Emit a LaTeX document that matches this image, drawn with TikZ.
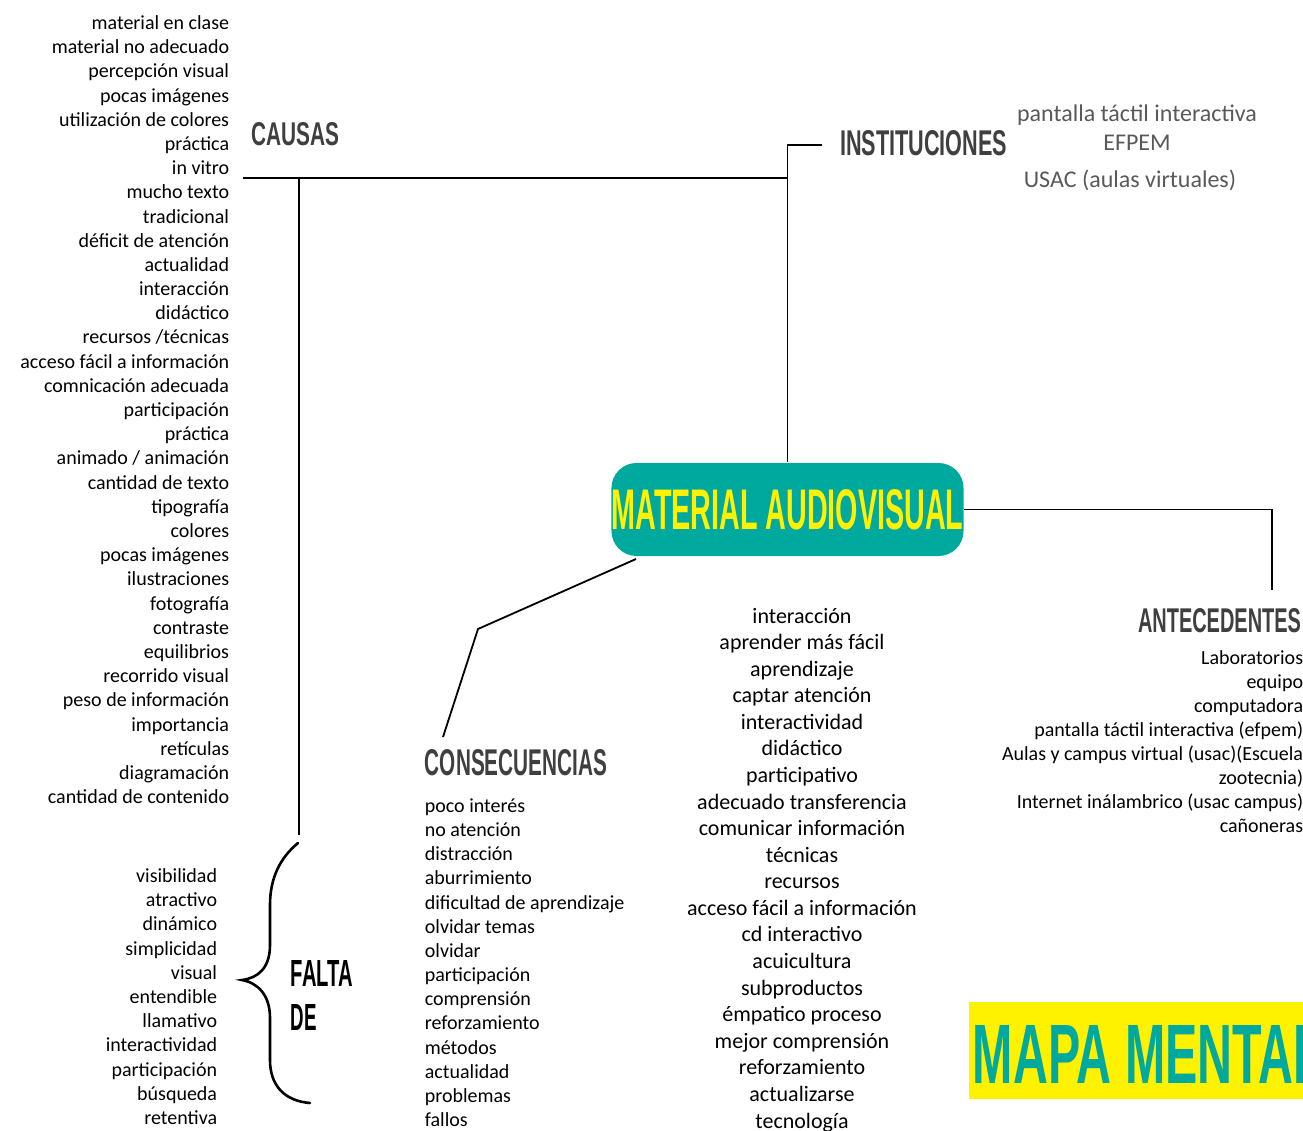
\documentclass[tikz,border=0pt]{standalone}
\usepackage{fontspec}
\usepackage{graphicx}
\setmainfont{Carlito}
\newfontfamily\headfont{Liberation Sans}
\definecolor{mapteal}{HTML}{00A99D}
\definecolor{mapyellow}{HTML}{FFF200}
\definecolor{headgrey}{HTML}{3F3F3F}
\definecolor{instgrey}{HTML}{595959}
% heading text squeezed to a given width and cap height
\newcommand{\hd}[3]{\resizebox{#1pt}{#2pt}{\headfont\bfseries #3}}

\begin{document}
\begin{tikzpicture}[x=1pt, y=-1pt, line width=1.8pt,
  lst/.style={inner sep=0pt, font=\fontsize{20}{24}\selectfont},
  biglst/.style={inner sep=0pt, font=\fontsize{22}{26}\selectfont},
  instlst/.style={inner sep=0pt, text=instgrey, font=\fontsize{24}{28}\selectfont},
  hdnode/.style={inner sep=0pt, text=headgrey}]
\useasboundingbox (0,0) rectangle (1303,1131);

% main node
\node[fill=mapteal, rounded corners=25pt, minimum width=351pt, minimum height=93pt,
  inner sep=0pt, text=mapyellow] (main) at (787.5,509.5) {\hd{352}{40}{MATERIAL AUDIOVISUAL}};

% headings
\node[hdnode] (causas) at (295,134.5) {\hd{88}{23}{CAUSAS}};
\node[hdnode] (inst) at (923.5,143.5) {\hd{167}{25}{INSTITUCIONES}};
\node[hdnode] (ante) at (1219.5,621) {\hd{163}{24}{ANTECEDENTES}};
\node[hdnode] (cons) at (516,763) {\hd{182}{26}{CONSECUENCIAS}};
\node[inner sep=0pt, anchor=west] (falta) at (290,973) {\hd{62}{26}{FALTA}};
\node[inner sep=0pt, anchor=west] (de) at (290,1017) {\hd{26}{26}{DE}};

% causas
\foreach \t [count=\i] in {material en clase, material no adecuado, percepción visual,
  pocas imágenes, utilización de colores, práctica, in vitro, mucho texto, tradicional,
  déficit de atención, actualidad, interacción, didáctico, recursos /técnicas,
  acceso fácil a información, comnicación adecuada, participación, práctica,
  animado / animación, cantidad de texto, tipografía, colores, pocas imágenes,
  ilustraciones, fotografía, contraste, equilibrios, recorrido visual,
  peso de información, importancia, retículas, diagramación, cantidad de contenido}
  \node[lst, anchor=base east] (ca\i) at (230,{29.5+24.19*(\i-1)}) {\t};

% falta de
\foreach \t [count=\i] in {visibilidad, atractivo, dinámico, simplicidad, visual,
  entendible, llamativo, interactividad, participación, búsqueda, retentiva}
  \node[lst, anchor=base east] (fa\i) at (218,{882.5+24.2*(\i-1)}) {\t};

% consecuencias
\foreach \t [count=\i] in {poco interés, no atención, distracción, aburrimiento,
  dificultad de aprendizaje, olvidar temas, olvidar, participación, comprensión,
  reforzamiento, métodos, actualidad, problemas, fallos}
  \node[lst, anchor=base west] (co\i) at (424,{812.5+24.15*(\i-1)}) {\t};

% ventajas
\foreach \t [count=\i] in {interacción, aprender más fácil, aprendizaje, captar atención,
  interactividad, didáctico, participativo, adecuado transferencia,
  comunicar información, técnicas, recursos, acceso fácil a información,
  cd interactivo, acuicultura, subproductos, émpatico proceso, mejor comprensión,
  reforzamiento, actualizarse, tecnología}
  \node[biglst, anchor=base] (ve\i) at (802,{623+26.58*(\i-1)}) {\t};

% antecedentes
\foreach \t [count=\i] in {Laboratorios, equipo, computadora,
  pantalla táctil interactiva (efpem), Aulas y campus virtual (usac)(Escuela,
  zootecnia), Internet inálambrico (usac campus), cañoneras}
  \node[lst, anchor=base east] (an\i) at (1304,{664.5+24*(\i-1)}) {\t};

% instituciones
\node[instlst, anchor=base] (in1) at (1137,122) {pantalla táctil interactiva};
\node[instlst, anchor=base] (in2) at (1137,151) {EFPEM};
\node[instlst, anchor=base] (in3) at (1130,188) {USAC (aulas virtuales)};

% connectors
\coordinate (cL) at (243,178);
\coordinate (cT) at (299,178);
\coordinate (cB) at (299,835);
\coordinate (iE) at (822,145);
\coordinate (aE) at (1272,590);
\coordinate (k0) at (636,559);
\coordinate (k1) at (478,629);
\coordinate (k2) at (443,737);

\draw (cL) -- (main.north |- cL);
\draw (cT) -- (cB);
\draw (main.north) |- (iE);
\draw (main.east) -| (aE);
\draw (k0) -- (k1) -- (k2);

% brace
\draw[line width=2.6pt, line cap=round] (298,843) .. controls (280,858) and (270,878) .. (270,905)
  -- (270,945) .. controls (270,968) and (258,978) .. (242,980)
  .. controls (258,983) and (270,995) .. (270,1018)
  -- (270,1060) .. controls (270,1086) and (285,1101) .. (310,1103);

% title
\begin{scope}
\clip (969,1002) rectangle (1303,1099);
\fill[mapyellow] (969,1002) rectangle (1303,1099);
\node[inner sep=0pt, anchor=west, text=mapteal] (mapa) at (972,1054.5) {\hd{350}{58}{MAPA MENTAL}};
\end{scope}
\end{tikzpicture}
\end{document}
